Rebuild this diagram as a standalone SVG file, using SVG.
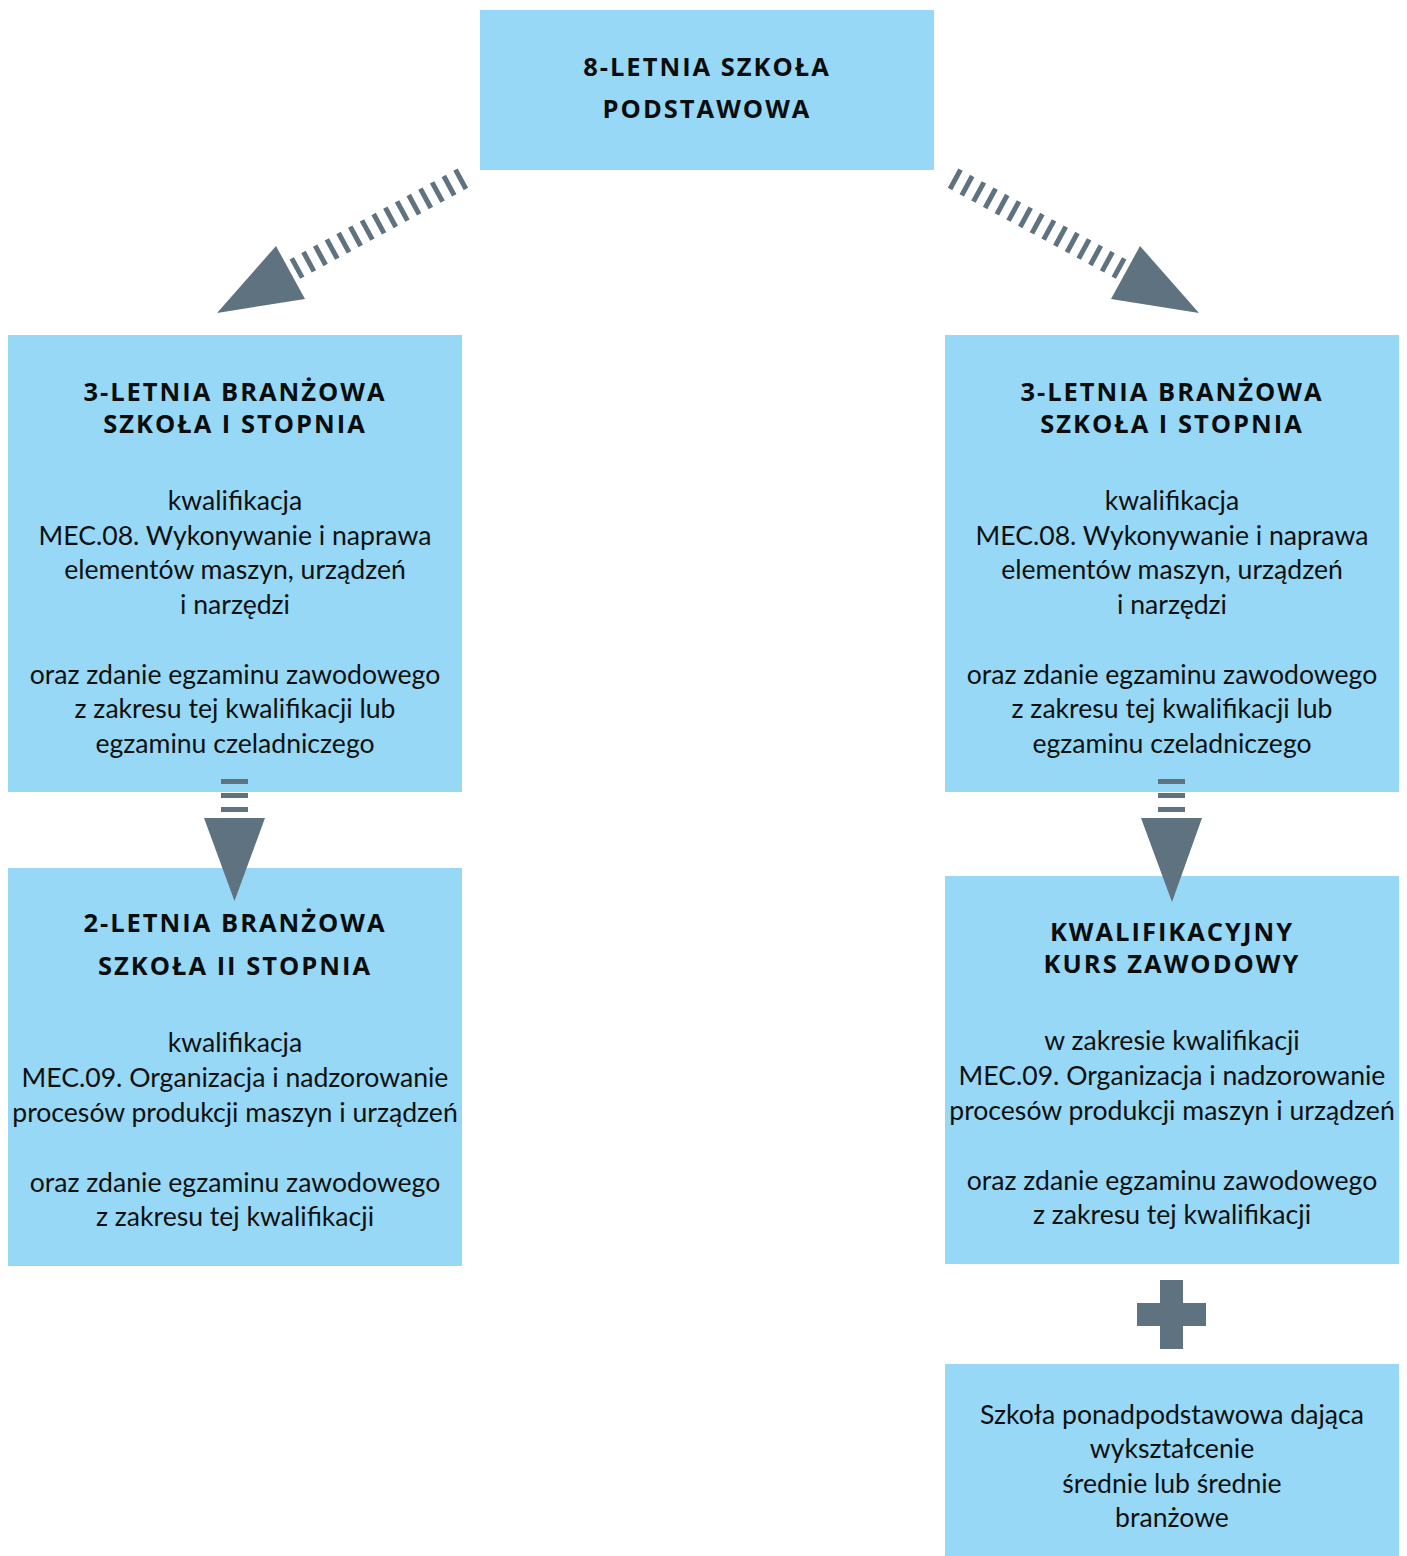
<svg xmlns="http://www.w3.org/2000/svg" width="1407" height="1556" viewBox="0 0 1407 1556">
<style>
.box{fill:#96d8f5}
.h{font-family:"Open Sans","DejaVu Sans",sans-serif;font-weight:700;font-size:25.5px;fill:#0d0d0d;text-anchor:middle;letter-spacing:2px}
.b{font-family:Lato,"Liberation Sans",sans-serif;font-size:26.6px;fill:#111;text-anchor:middle}
.ar{fill:#5f7280}
.dash{stroke:#5f7280;stroke-width:22;stroke-dasharray:5 8.3;fill:none}
</style>
<rect width="1407" height="1556" fill="#fff"/>
<g id="connectors">
<line class="dash" x1="294.8" y1="269.2" x2="465" y2="177"/>
<polygon class="ar" points="276,246 305,299 217,313"/>
<line class="dash" x1="1121.2" y1="269.2" x2="951" y2="177"/>
<polygon class="ar" points="1140,246 1111,299 1199,313"/>
</g>
<g id="top">
<rect class="box" x="480" y="10" width="454" height="160"/>
<text class="h" x="707" y="76">8-LETNIA SZKOŁA</text>
<text class="h" x="707" y="118">PODSTAWOWA</text>
</g>
<g id="left1">
<rect class="box" x="8" y="335" width="454" height="457"/>
<text class="h" x="235" y="401">3-LETNIA BRANŻOWA</text>
<text class="h" x="235" y="433">SZKOŁA I STOPNIA</text>
<text class="b" x="235" y="510">kwalifikacja</text>
<text class="b" x="235" y="545">MEC.08. Wykonywanie i naprawa</text>
<text class="b" x="235" y="579">elementów maszyn, urządzeń</text>
<text class="b" x="235" y="614">i narzędzi</text>
<text class="b" x="235" y="684">oraz zdanie egzaminu zawodowego</text>
<text class="b" x="235" y="718">z zakresu tej kwalifikacji lub</text>
<text class="b" x="235" y="753">egzaminu czeladniczego</text>
</g>
<g id="right1">
<rect class="box" x="945" y="335" width="454" height="457"/>
<text class="h" x="1172" y="401">3-LETNIA BRANŻOWA</text>
<text class="h" x="1172" y="433">SZKOŁA I STOPNIA</text>
<text class="b" x="1172" y="510">kwalifikacja</text>
<text class="b" x="1172" y="545">MEC.08. Wykonywanie i naprawa</text>
<text class="b" x="1172" y="579">elementów maszyn, urządzeń</text>
<text class="b" x="1172" y="614">i narzędzi</text>
<text class="b" x="1172" y="684">oraz zdanie egzaminu zawodowego</text>
<text class="b" x="1172" y="718">z zakresu tej kwalifikacji lub</text>
<text class="b" x="1172" y="753">egzaminu czeladniczego</text>
</g>
<g id="left2">
<rect class="box" x="8" y="868" width="454" height="398"/>
<text class="h" x="235" y="932">2-LETNIA BRANŻOWA</text>
<text class="h" x="235" y="975">SZKOŁA II STOPNIA</text>
<text class="b" x="235" y="1052">kwalifikacja</text>
<text class="b" x="235" y="1087">MEC.09. Organizacja i nadzorowanie</text>
<text class="b" x="235" y="1122">procesów produkcji maszyn i urządzeń</text>
<text class="b" x="235" y="1192">oraz zdanie egzaminu zawodowego</text>
<text class="b" x="235" y="1226">z zakresu tej kwalifikacji</text>
</g>
<g id="right2">
<rect class="box" x="945" y="876" width="454" height="388"/>
<text class="h" x="1172" y="941">KWALIFIKACYJNY</text>
<text class="h" x="1172" y="973">KURS ZAWODOWY</text>
<text class="b" x="1172" y="1050">w zakresie kwalifikacji</text>
<text class="b" x="1172" y="1085">MEC.09. Organizacja i nadzorowanie</text>
<text class="b" x="1172" y="1120">procesów produkcji maszyn i urządzeń</text>
<text class="b" x="1172" y="1190">oraz zdanie egzaminu zawodowego</text>
<text class="b" x="1172" y="1224">z zakresu tej kwalifikacji</text>
</g>
<g id="right3">
<rect class="box" x="945" y="1364" width="454" height="192"/>
<text class="b" x="1172" y="1424">Szkoła ponadpodstawowa dająca</text>
<text class="b" x="1172" y="1458">wykształcenie</text>
<text class="b" x="1172" y="1493">średnie lub średnie</text>
<text class="b" x="1172" y="1527">branżowe</text>
</g>
<g id="connectors-vertical">
<rect class="ar" x="221" y="779" width="27" height="5"/>
<rect class="ar" x="221" y="793" width="27" height="5"/>
<rect class="ar" x="221" y="807" width="27" height="5"/>
<polygon class="ar" points="204,818 265,818 234.5,901"/>
<rect class="ar" x="1158" y="779" width="27" height="5"/>
<rect class="ar" x="1158" y="793" width="27" height="5"/>
<rect class="ar" x="1158" y="807" width="27" height="5"/>
<polygon class="ar" points="1141,818 1202,818 1172,902"/>
</g>
<g id="plus">
<rect class="ar" x="1160" y="1280" width="23" height="69"/>
<rect class="ar" x="1137" y="1303" width="69" height="23"/>
</g>
</svg>
